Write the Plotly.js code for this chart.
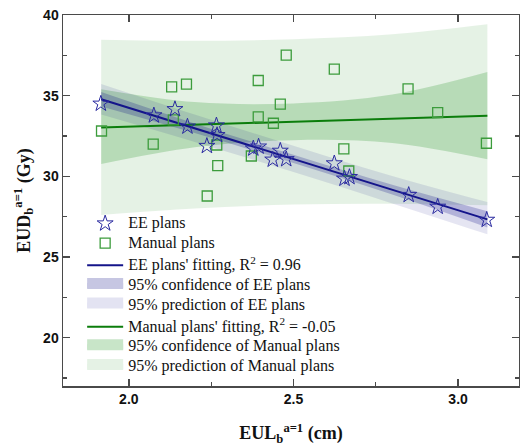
<!DOCTYPE html>
<html>
<head>
<meta charset="utf-8">
<script src="https://cdn.plot.ly/plotly-3.0.1.min.js"></script>
<style>html,body{margin:0;padding:0;background:#fff;}#chart{width:520px;height:448px;}</style>
</head>
<body>
<div id="chart"></div>
<script>
// ---- data ----
var eeX = [1.915, 2.076, 2.140, 2.178, 2.237, 2.266, 2.268, 2.378, 2.394, 2.437, 2.460, 2.478, 2.624, 2.655, 2.670, 2.850, 2.938, 3.087];
var eeY = [34.50, 33.77, 34.16, 33.08, 31.88, 33.15, 32.55, 31.72, 31.84, 31.03, 31.58, 31.06, 30.80, 29.85, 29.95, 28.84, 28.11, 27.30];

var manX = [1.917, 2.074, 2.130, 2.135, 2.175, 2.238, 2.267, 2.270, 2.372, 2.393, 2.393, 2.439, 2.460, 2.478, 2.624, 2.653, 2.668, 2.848, 2.938, 3.086];
var manY = [32.81, 32.00, 35.55, 33.50, 35.71, 28.78, 31.94, 30.66, 31.26, 35.94, 33.68, 33.29, 34.47, 37.51, 36.65, 31.70, 30.33, 35.42, 33.95, 32.05];

// fitted lines (end points)
var eeFitX = [1.916, 3.089];
var eeFitY = [34.78, 27.33];
var manFitX = [1.916, 3.089];
var manFitY = [33.02, 33.75];

// band boundaries read at these x positions
var bandX = [1.916, 2.2, 2.5, 2.8, 3.089];
var eeConfUp = [35.23, 33.28, 31.33, 29.47, 27.83];
var eeConfLo = [34.33, 32.68, 30.83, 28.87, 26.83];
var eePredUp = [35.73, 33.83, 31.90, 30.02, 28.40];
var eePredLo = [33.83, 32.13, 30.26, 28.32, 26.40];
var manConfUp = [35.40, 34.60, 34.52, 35.07, 36.46];
var manConfLo = [30.76, 31.80, 32.24, 32.07, 31.06];
var manPredUp = [38.47, 38.40, 38.50, 38.80, 39.42];
var manPredLo = [27.60, 28.00, 28.25, 28.30, 28.20];

var xTickVals = [2.0, 2.5, 3.0];
var yTickVals = [20, 25, 30, 35, 40];

var legendNames = {
  eePts: "EE plans",
  manPts: "Manual plans",
  eeFit: "EE plans' fitting, R<sup>2</sup> = 0.96",
  eeConf: "95% confidence of EE plans",
  eePred: "95% prediction of EE plans",
  manFit: "Manual plans' fitting, R<sup>2</sup> = -0.05",
  manConf: "95% confidence of Manual plans",
  manPred: "95% prediction of Manual plans"
};

// ---- styles ----
var NAVY = '#14148a', STAR = '#2a2aa0', GREEN = '#0b7d0b', SQUARE = '#3c9c3c';
var eeConfFill = 'rgba(0,0,128,0.22)', eePredFill = 'rgba(0,0,128,0.10)';
var manConfFill = 'rgba(0,128,0,0.20)', manPredFill = 'rgba(0,128,0,0.10)';
var eeConfSw = '#c6c6e2', eePredSw = '#e3e3f2', manConfSw = '#c8e5c8', manPredSw = '#e5f2e5';

function lg(t){ return '<span style="font-family:Liberation Serif,Times New Roman,serif;font-size:16px">' + t + '</span>'; }

function band(lo, up, fill){
  return [
    {x: bandX, y: lo, type:'scatter', mode:'lines', line:{width:0, shape:'spline', color:fill}, showlegend:false, hoverinfo:'skip'},
    {x: bandX, y: up, type:'scatter', mode:'lines', line:{width:0, shape:'spline', color:fill}, fill:'tonexty', fillcolor:fill, showlegend:false, hoverinfo:'skip'}
  ];
}
function swatch(name, col, rank, grp){
  return {x:[null], y:[null], type:'scatter', mode:'lines', fill:'toself', fillcolor:col,
          line:{color:col, width:10}, name: lg(name), legendrank: rank, legendgroup: grp, hoverinfo:'skip'};
}

var traces = [].concat(
  band(manPredLo, manPredUp, manPredFill),
  band(manConfLo, manConfUp, manConfFill),
  band(eePredLo, eePredUp, eePredFill),
  band(eeConfLo, eeConfUp, eeConfFill),
  [
    {x: manFitX, y: manFitY, type:'scatter', mode:'lines', line:{color:GREEN, width:2}, name: lg(legendNames.manFit), legendrank: 6, legendgroup:'c'},
    {x: eeFitX, y: eeFitY, type:'scatter', mode:'lines', line:{color:NAVY, width:2}, name: lg(legendNames.eeFit), legendrank: 3, legendgroup:'b'},
    {x: manX, y: manY, type:'scatter', mode:'markers', marker:{symbol:'square-open', size:10, color:SQUARE, line:{width:1.3}}, name: lg(legendNames.manPts), legendrank: 2, legendgroup:'a'},
    {x: eeX, y: eeY, type:'scatter', mode:'markers', marker:{symbol:'star-open', size:12, color:STAR, line:{width:1}}, name: lg(legendNames.eePts), legendrank: 1, legendgroup:'a'},
    swatch(legendNames.eeConf, eeConfSw, 4, 'b'),
    swatch(legendNames.eePred, eePredSw, 5, 'b'),
    swatch(legendNames.manConf, manConfSw, 7, 'c'),
    swatch(legendNames.manPred, manPredSw, 8, 'c')
  ]
);

var axisCommon = {
  showline: true, linecolor:'#4a4a4a', linewidth:1.5, mirror:'allticks',
  ticks:'inside', ticklen:7, tickwidth:1.3, tickcolor:'#4a4a4a',
  showgrid:false, zeroline:false,
  tickfont:{family:'Liberation Sans, Arial, sans-serif', size:14, weight:'bold', color:'#111'}
};

var layout = {
  width:520, height:448,
  margin:{l:63, r:1, t:15, b:62},
  paper_bgcolor:'#fff', plot_bgcolor:'#fff',
  xaxis: Object.assign({}, axisCommon, {
    range:[1.8, 3.185], tickvals: xTickVals, ticktext: xTickVals.map(function(v){return v.toFixed(1);}),
    minor:{dtick:0.25, tick0:2.0, ticks:'inside', ticklen:4, tickcolor:'#4a4a4a', tickwidth:1.3},
    title:{text:'EUL<sub>b</sub><sup>a=1</sup> (cm)', font:{family:'Liberation Serif, Times New Roman, serif', size:18, weight:'bold', color:'#111'}, standoff:20}
  }),
  yaxis: Object.assign({}, axisCommon, {
    range:[17, 40], tickvals: yTickVals, ticktext: yTickVals.map(String),
    minor:{dtick:2.5, tick0:0, ticks:'inside', ticklen:4, tickcolor:'#4a4a4a', tickwidth:1.3},
    title:{text:'EUD<sub>b</sub><sup>a=1</sup> (Gy)', font:{family:'Liberation Serif, Times New Roman, serif', size:18, weight:'bold', color:'#111'}, standoff:8}
  }),
  legend:{
    x:0.042, y:0.478, xanchor:'left', yanchor:'top',
    bgcolor:'rgba(0,0,0,0)', borderwidth:0,
    itemwidth:36, traceorder:'grouped', tracegroupgap:2.5,
    font:{family:'Liberation Serif, Times New Roman, serif', size:12.8, color:'#111'}
  },
  showlegend:true
};

Plotly.newPlot('chart', traces, layout, {staticPlot:true, displayModeBar:false});
</script>
</body>
</html>
